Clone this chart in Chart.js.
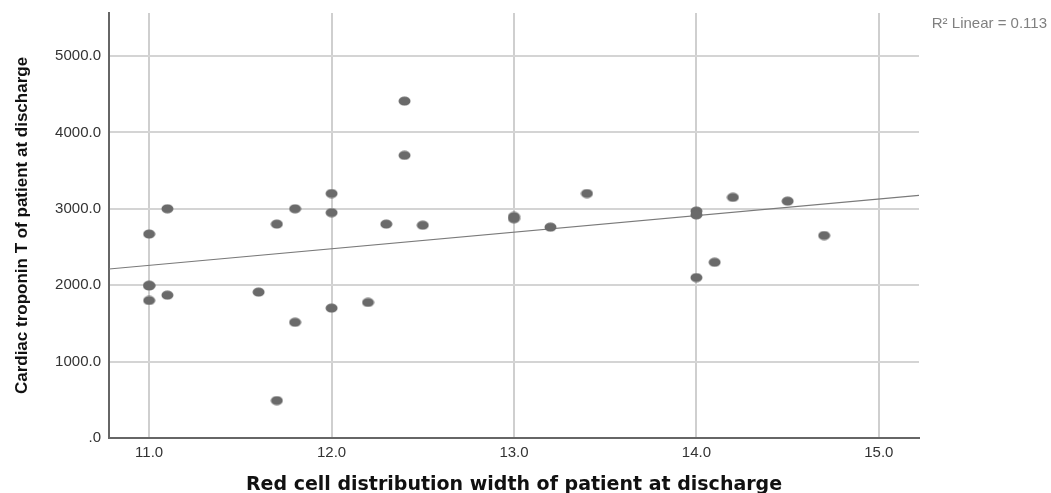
<!DOCTYPE html>
<html>
<head>
<meta charset="utf-8">
<script src="https://cdn.jsdelivr.net/npm/chart.js@4.4.0/dist/chart.umd.min.js"></script>
<style>
  html, body { margin: 0; padding: 0; background: #fff; }
  #wrap { width: 1051px; height: 493px; }
</style>
</head>
<body>
<div id="wrap"><canvas id="myChart" width="1051" height="493"></canvas></div>
<script>
// RDW at discharge (x) vs cardiac troponin T at discharge (y)
var rdwValues = [11.0, 11.0, 11.0, 11.0, 11.1, 11.1, 11.6, 11.7, 11.7, 11.8, 11.8,
                 12.0, 12.0, 12.0, 12.2, 12.3, 12.4, 12.4, 12.5,
                 13.0, 13.0, 13.2, 13.4,
                 14.0, 14.0, 14.0, 14.1, 14.2, 14.5, 14.7];
var tropValues = [2670, 2000, 1990, 1800, 3000, 1870, 1910, 2800, 490, 3000, 1515,
                  3200, 2950, 1700, 1775, 2800, 4410, 3700, 2785,
                  2900, 2870, 2760, 3200,
                  2970, 2920, 2100, 2300, 3150, 3100, 2650];

var xTicks = [11, 12, 13, 14, 15];
var yTicks = [0, 1000, 2000, 3000, 4000, 5000];
var xRange = [10.78, 15.22];
var yRange = [0, 5563];

// linear fit shown in the figure
var fitSlope = 217;
var fitIntercept = -127;
var r2Label = 'R\u00b2 Linear = 0.113';

var points = rdwValues.map(function (x, i) { return { x: x, y: tropValues[i] }; });
var fitLine = xRange.map(function (x) { return { x: x, y: fitIntercept + fitSlope * x }; });

// slightly wide dot, like the original export
var dot = document.createElement('canvas');
dot.width = 13; dot.height = 10;
var dctx = dot.getContext('2d');
dctx.fillStyle = '#6a6a6a';
dctx.beginPath();
dctx.ellipse(6.5, 5, 6, 4.5, 0, 0, Math.PI * 2);
dctx.fill();

var r2Plugin = {
  id: 'r2text',
  afterDraw: function (chart) {
    var c = chart.ctx;
    c.save();
    c.font = '15px "Liberation Sans", Arial, sans-serif';
    c.fillStyle = '#808080';
    c.textAlign = 'right';
    c.textBaseline = 'middle';
    c.fillText(r2Label, 1047, 24);
    c.restore();
  }
};

var tickFont = { family: '"Liberation Sans", Arial, sans-serif', size: 15 };

var ctx = document.getElementById('myChart').getContext('2d');
var myChart = new Chart(ctx, {
  type: 'scatter',
  data: {
    datasets: [{
      data: points,
      pointStyle: dot,
      pointRadius: 6,
      pointHoverRadius: 6,
      order: 1
    }, {
      type: 'line',
      data: fitLine,
      borderColor: '#7a7a7a',
      borderWidth: 1.2,
      pointRadius: 0,
      fill: false,
      order: 2
    }]
  },
  options: {
    responsive: false,
    animation: false,
    layout: { padding: { left: 0, right: 132, top: 13, bottom: 0 } },
    plugins: {
      legend: { display: false },
      tooltip: { enabled: false }
    },
    scales: {
      x: {
        type: 'linear',
        min: xRange[0],
        max: xRange[1],
        afterBuildTicks: function (s) { s.ticks = xTicks.map(function (v) { return { value: v }; }); },
        afterFit: function (s) { s.height = 55; s.paddingLeft = 0; s.paddingRight = 0; },
        grid: { color: '#cfcfcf', lineWidth: 2, drawTicks: false },
        border: { color: '#666', width: 2 },
        ticks: {
          padding: 6,
          color: '#333',
          font: tickFont,
          callback: function (v) { return Number(v).toFixed(1); }
        },
        title: {
          display: true,
          text: 'Red cell distribution width of patient at discharge',
          color: '#111',
          font: { family: '"DejaVu Sans", "Liberation Sans", Arial, sans-serif', size: 19, weight: 'bold', lineHeight: 0.8 },
          padding: { top: 0, bottom: 0 }
        }
      },
      y: {
        type: 'linear',
        min: yRange[0],
        max: yRange[1],
        afterBuildTicks: function (s) { s.ticks = yTicks.map(function (v) { return { value: v }; }); },
        afterFit: function (s) { s.width = 109; s.paddingTop = 0; s.paddingBottom = 0; },
        grid: { color: '#d4d4d4', lineWidth: 2, drawTicks: false },
        border: { color: '#666', width: 2 },
        ticks: {
          padding: 8,
          color: '#333',
          font: tickFont,
          callback: function (v) { return v === 0 ? '.0' : Number(v).toFixed(1); }
        },
        title: {
          display: true,
          text: 'Cardiac troponin T of patient at discharge',
          color: '#111',
          font: { family: '"Liberation Sans", Arial, sans-serif', size: 17, weight: 'bold' },
          padding: { top: 12, bottom: 0 }
        }
      }
    }
  },
  plugins: [r2Plugin]
});
</script>
</body>
</html>
